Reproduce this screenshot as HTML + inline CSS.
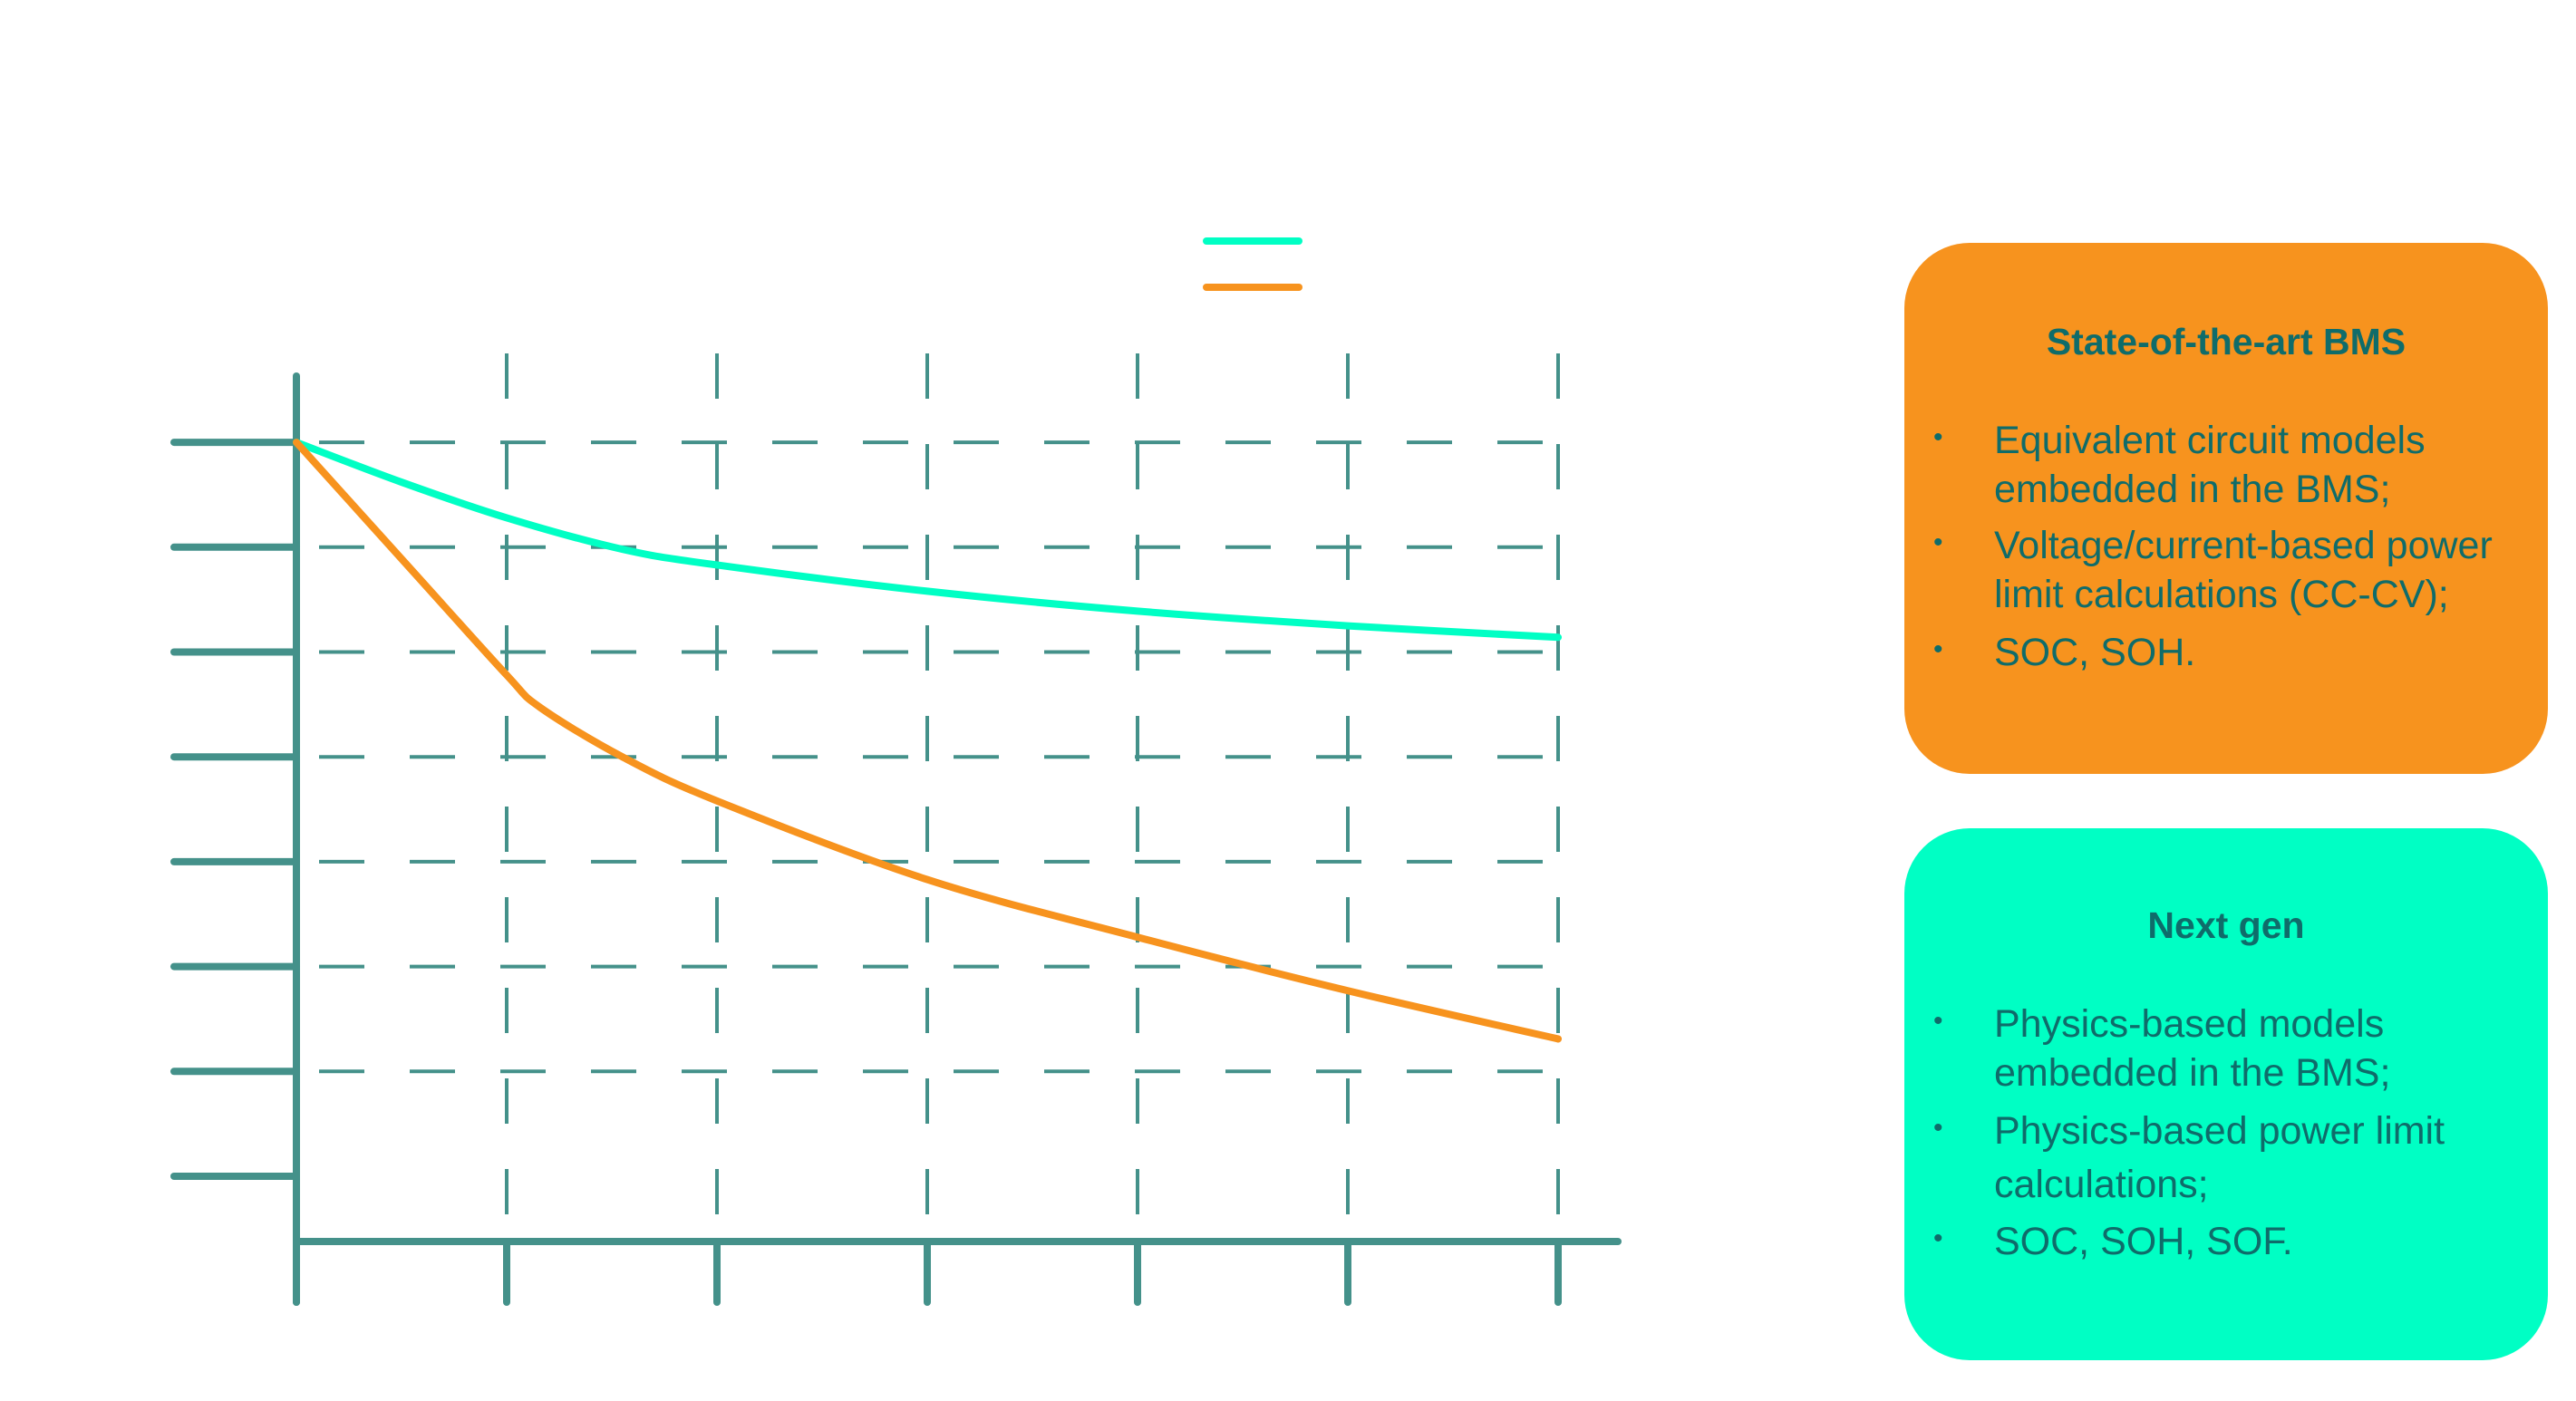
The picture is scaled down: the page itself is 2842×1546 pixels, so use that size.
<!DOCTYPE html>
<html><head><meta charset="utf-8"><style>
html,body{margin:0;padding:0;background:#fff;}
body{width:2842px;height:1546px;position:relative;overflow:hidden;font-family:"Liberation Sans",sans-serif;}
.box{position:absolute;left:2101px;width:710px;border-radius:72px;color:#0f6c6a;}
.title{position:absolute;left:0;width:100%;text-align:center;font-weight:bold;font-size:41px;}
.line{position:absolute;left:99px;font-size:43px;white-space:nowrap;line-height:1;}
.bul{position:absolute;left:32px;font-size:30px;line-height:1;}
</style></head><body>
<svg id="chart" width="2842" height="1546" style="position:absolute;left:0;top:0"></svg>

<div class="box" style="top:268px;height:586px;background:#F7931E;">
  <div class="title" style="top:86px">State-of-the-art BMS</div>
  <div class="bul" style="top:200px">•</div>
  <div class="line" style="top:197px">Equivalent circuit models</div>
  <div class="line" style="top:251px">embedded in the BMS;</div>
  <div class="bul" style="top:316px">•</div>
  <div class="line" style="top:313px">Voltage/current-based power</div>
  <div class="line" style="top:367px">limit calculations (CC-CV);</div>
  <div class="bul" style="top:434px">•</div>
  <div class="line" style="top:431px">SOC, SOH.</div>
</div>

<div class="box" style="top:914px;height:587px;background:#00FFC4;">
  <div class="title" style="top:84px">Next gen</div>
  <div class="bul" style="top:198px">•</div>
  <div class="line" style="top:195px">Physics-based models</div>
  <div class="line" style="top:249px">embedded in the BMS;</div>
  <div class="bul" style="top:316px">•</div>
  <div class="line" style="top:313px">Physics-based power limit</div>
  <div class="line" style="top:372px">calculations;</div>
  <div class="bul" style="top:438px">•</div>
  <div class="line" style="top:435px">SOC, SOH, SOF.</div>
</div>

<script>
const xTicks = [0,1,2,3,4,5,6];
const yTicks = [0,1,2,3,4,5,6,7];
const nextGenX = [0,0.5,1,1.55,2,3,4,5,6];
const nextGenY = [7,6.62,6.28,5.98,5.83,5.58,5.39,5.25,5.14];
const sotaX = [0,0.54,1,1.16,1.55,2,3,4,5,6];
const sotaY = [7,5.8,4.78,4.47,4.0,3.58,2.83,2.28,1.77,1.31];

const NS='http://www.w3.org/2000/svg';
const svg=document.getElementById('chart');
const X0=327, XS=232, Y0=1298, YS=115.7;
const px=v=>X0+v*XS, py=v=>Y0-v*YS;
const grid='#44918A';
function mk(tag,attrs){const e=document.createElementNS(NS,tag);for(const k in attrs)e.setAttribute(k,attrs[k]);svg.appendChild(e);return e;}

// horizontal dashed grid + y ticks
yTicks.forEach(v=>{
  const y=py(v);
  if(v>0){
    const g=mk('line',{x1:X0,x2:px(6),y1:y,y2:y,stroke:grid,'stroke-width':4,'stroke-dasharray':'50 50','stroke-dashoffset':'-25'});
    
    
  }
  const t=mk('line',{x1:192,x2:X0,y1:y,y2:y,stroke:grid,'stroke-width':8,'stroke-linecap':'round'});
  
  
});
// vertical dashed grid + x ticks
xTicks.forEach(v=>{
  const x=px(v);
  if(v>0){
    const g=mk('line',{x1:x,x2:x,y1:372,y2:1370,stroke:grid,'stroke-width':4,'stroke-dasharray':'50 50','stroke-dashoffset':'-18'});
    
    
  }
  const t=mk('line',{x1:x,x2:x,y1:1370,y2:1437,stroke:grid,'stroke-width':8,'stroke-linecap':'round'});
  
  
});
const ya=mk('line',{x1:X0,x2:X0,y1:415,y2:1437,stroke:grid,'stroke-width':8,'stroke-linecap':'round'});


const xa=mk('line',{x1:X0,x2:1785,y1:1370,y2:1370,stroke:grid,'stroke-width':8,'stroke-linecap':'round'});



function curve(xs,ys){
  const p=xs.map((x,i)=>[px(x),py(ys[i])]);
  let d='M'+p[0][0]+','+p[0][1];
  for(let i=0;i<p.length-1;i++){
    const p0=p[Math.max(0,i-1)],p1=p[i],p2=p[i+1],p3=p[Math.min(p.length-1,i+2)];
    const c1=[p1[0]+(p2[0]-p0[0])/6,p1[1]+(p2[1]-p0[1])/6];
    const c2=[p2[0]-(p3[0]-p1[0])/6,p2[1]-(p3[1]-p1[1])/6];
    d+=' C'+c1+' '+c2+' '+p2;
  }
  return d;
}
const c1=mk('path',{d:curve(nextGenX,nextGenY),fill:'none',stroke:'#00FFC4','stroke-width':8,'stroke-linecap':'round'});


const c2=mk('path',{d:curve(sotaX,sotaY),fill:'none',stroke:'#F7931E','stroke-width':8,'stroke-linecap':'round'});



const l1=mk('line',{x1:1331,x2:1433,y1:266,y2:266,stroke:'#00FFC4','stroke-width':8,'stroke-linecap':'round'});


const l2=mk('line',{x1:1331,x2:1433,y1:317,y2:317,stroke:'#F7931E','stroke-width':8,'stroke-linecap':'round'});


</script>
</body></html>
